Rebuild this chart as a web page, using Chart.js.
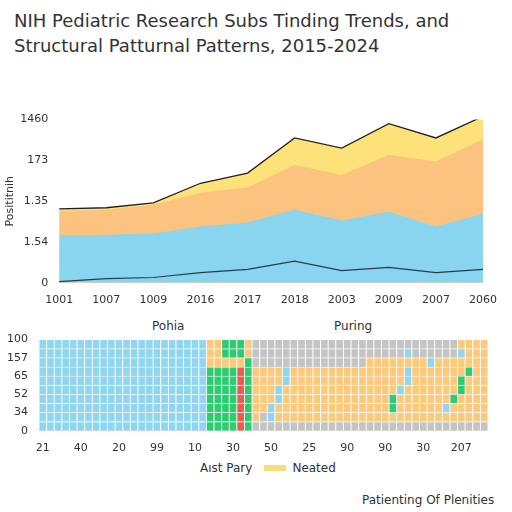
<!DOCTYPE html>
<html><head><meta charset="utf-8">
<script src="https://cdn.jsdelivr.net/npm/chart.js@4"></script>
<style>
body{margin:0;width:512px;height:512px;background:#fff;font-family:"DejaVu Sans",sans-serif;color:#222;position:relative;overflow:hidden}
#title{position:absolute;left:14px;top:8px;font-size:18px;line-height:25px;color:#333}
#top{position:absolute;left:0;top:110px;width:500px;height:200px}
#bot{position:absolute;left:0;top:330px;width:500px;height:128px}
.lbl{position:absolute;font-size:12px;color:#333}
.sw{display:inline-block;width:22px;height:6px;background:#fcd97a;margin:0 6px 2px 12px;vertical-align:middle}
</style></head><body>
<div id="title">NIH Pediatric Research Subs Tinding Trends, and<br>Structural Patturnal Patterns, 2015-2024</div>
<div id="top"><canvas id="c1"></canvas></div>
<div class="lbl" style="left:152px;top:319px">Pohia</div>
<div class="lbl" style="left:334px;top:319px">Puring</div>
<div id="bot"><canvas id="c2"></canvas></div>
<div class="lbl" style="left:200px;top:461px">Aıst Pary<span class="sw"></span>Neated</div>
<div class="lbl" style="left:362px;top:493px">Patienting Of Plenities</div>
<script>
const years = ['1001','1007','1009','2016','2017','2018','2003','2009','2007','2060'];
const yTickLabels = ['0','1.54','1.35','173','1460'];
const darkLow = [0.03,0.1,0.13,0.25,0.33,0.53,0.3,0.38,0.25,0.33];
const blueTop = [1.16,1.18,1.21,1.38,1.48,1.79,1.53,1.74,1.38,1.69];
const orangeTop = [1.76,1.79,1.91,2.21,2.34,2.89,2.64,3.14,2.97,3.52];
const yellowTop = [1.81,1.84,1.96,2.44,2.69,3.55,3.3,3.9,3.55,4.08];

const heatX = ['21','40','20','99','10','30','50','25','90','90','30','207'];
const heatY = ['0','34','52','65','157','100'];
const heatRows = [
  'BBBBBBBBBBBBBBBBBBBBBBYYGGGYNNNNNNNNNNNNNNNNNNNNNNNNNNNYYYY',
  'BBBBBBBBBBBBBBBBBBBBBBYYGGGYNNNNNNNNNNNNNNNNNNNNBNNNNNNBYYYY',
  'BBBBBBBBBBBBBBBBBBBBBBYYYYYGNNNNNNNNNNNNNNNYYYYYYYYBYYYYYYYY',
  'BBBBBBBBBBBBBBBBBBBBBBGGGGRGYYYYBYYYYYYYYYYYYYYYBYYYYYYYGYYY',
  'BBBBBBBBBBBBBBBBBBBBBBGGGGRGYYYYBYYYYYYYYYYYYYYYBYYYYYYGYYYY',
  'BBBBBBBBBBBBBBBBBBBBBBGGGGRGYYYBYYYYYYYYYYYYYYYBYYYYYYYGYYYY',
  'BBBBBBBBBBBBBBBBBBBBBBGGGGRGYYYBYYYYYYYYYYYYYYGYYYYYYYGYYYYY',
  'BBBBBBBBBBBBBBBBBBBBBBGGGGRGYYBYYYYYYYYYYYYYYYGYYYYYYBYYYYYY',
  'BBBBBBBBBBBBBBBBBBBBBBGGGGRGYNBYYYYYYYYYYYYYYYYYYYYYYYYYYYYY',
  'BBBBBBBBBBBBBBBBBBBBBBGGGGRGNNNNNNNNNNNNNNNNNNNNNNNNNNNNNNNN'
];
const cellColor = { B:'#8fd6ee', G:'#2ecc71', R:'#ee5a4f', Y:'#fcca7a', N:'#c4c4c4' };

Chart.defaults.font.family = '"DejaVu Sans", sans-serif';
Chart.defaults.color = '#333';

new Chart(document.getElementById('c1'), {
  type: 'line',
  data: { labels: years, datasets: [
    { data: darkLow, borderColor: '#2b3a4a', borderWidth: 1.2, fill: false, pointRadius: 0, order: 1 },
    { data: blueTop, borderWidth: 0, backgroundColor: '#89d4ee', fill: 'origin', pointRadius: 0, order: 2 },
    { data: orangeTop, borderWidth: 0, backgroundColor: '#fcc27f', fill: 'origin', pointRadius: 0, order: 3 },
    { data: yellowTop, borderColor: '#222', borderWidth: 1.3, backgroundColor: '#fde27a', fill: 'origin', pointRadius: 0, order: 4 }
  ]},
  options: {
    responsive: true, maintainAspectRatio: false, animation: false,
    plugins: { legend: { display: false }, tooltip: { enabled: false } },
    layout: { padding: { left: 4, right: 12 } },
    scales: {
      x: { offset: false, grid: { display: false }, ticks: { font: { size: 11 } } },
      y: { min: 0, max: 4, grid: { display: false }, border: { display: false },
        title: { display: true, text: 'Posititnih', font: { size: 11 }, padding: 0 },
        ticks: { stepSize: 1, font: { size: 11 }, callback: v => yTickLabels[v] } }
    }
  }
});

const nCols = heatRows[0].length;
const heatDatasets = heatRows.slice().reverse().map(row => ({
  data: Array(nCols).fill(1),
  backgroundColor: row.split('').map(c => cellColor[c]),
  borderColor: '#fff', borderWidth: 0.8,
  barPercentage: 1, categoryPercentage: 1
}));
new Chart(document.getElementById('c2'), {
  type: 'bar',
  data: { labels: Array.from({ length: nCols }, (_, i) => i), datasets: heatDatasets },
  options: {
    responsive: true, maintainAspectRatio: false, animation: false,
    plugins: { legend: { display: false }, tooltip: { enabled: false } },
    layout: { padding: { left: 4, right: 12 } },
    scales: {
      x: { stacked: true, grid: { display: false },
        ticks: { autoSkip: false, maxRotation: 0, font: { size: 11 },
          callback: (v, i) => i % 5 === 0 ? heatX[i / 5] : '' } },
      y: { stacked: true, min: 0, max: 10, grid: { display: false }, border: { display: false },
        ticks: { stepSize: 2, font: { size: 11 }, callback: v => heatY[v / 2] } }
    }
  }
});
</script>
</body></html>
